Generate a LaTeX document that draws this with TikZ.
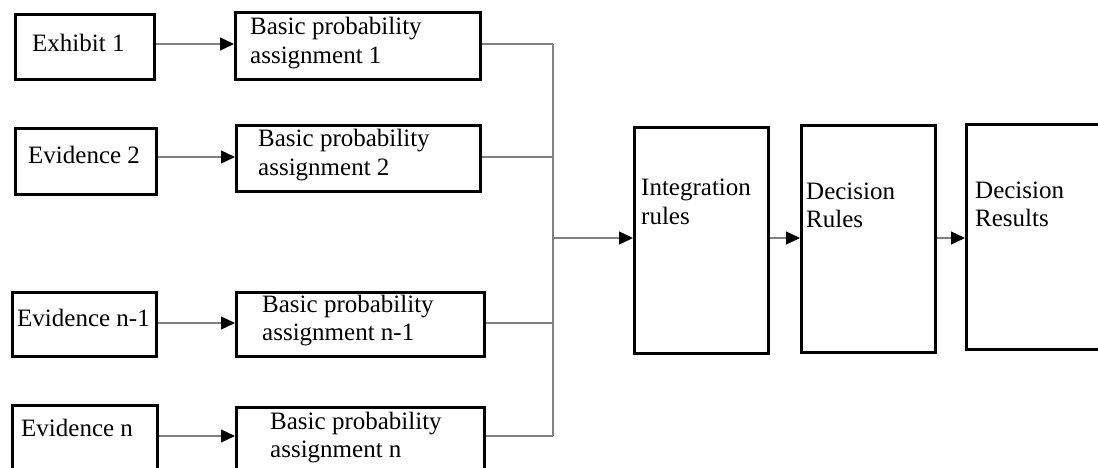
\documentclass[tikz,border=0pt]{standalone}
\usepackage{fontspec}
\setmainfont{Liberation Serif}
\usetikzlibrary{arrows.meta}
\definecolor{connc}{RGB}{128,128,128}
\begin{document}
\begin{tikzpicture}[x=1pt,y=-1pt,
  box/.style={draw=black,line width=3pt,inner sep=0pt,anchor=north west},
  lbl/.style={anchor=base west,inner sep=0pt,font=\fontsize{25}{28.5}\selectfont},
  conn/.style={draw=connc,line width=1.3pt},
  arr/.style={conn,-{Triangle[length=14pt,width=13pt,color=black]}}]
\useasboundingbox (0,0) rectangle (1098,468);
% boxes
\node[box,minimum width=139pt,minimum height=65pt] (e1) at (14,13) {};
\node[box,minimum width=245pt,minimum height=67pt] (b1) at (234,11) {};
\node[box,minimum width=141pt,minimum height=66pt] (e2) at (14,127) {};
\node[box,minimum width=244pt,minimum height=66pt] (b2) at (235,124) {};
\node[box,minimum width=144pt,minimum height=64pt] (e3) at (11,291) {};
\node[box,minimum width=248pt,minimum height=64pt] (b3) at (235,291) {};
\node[box,minimum width=145pt,minimum height=75pt] (e4) at (11,404) {};
\node[box,minimum width=248pt,minimum height=72pt] (b4) at (235,406) {};
\node[box,minimum width=134pt,minimum height=226pt] (ir) at (633,126) {};
\node[box,minimum width=134pt,minimum height=227pt] (dr) at (800,124) {};
\node[box,minimum width=145pt,minimum height=225pt] (dres) at (965,123) {};
% texts
\node[lbl] (te1) at (32,52) {Exhibit 1};
\node[lbl] (tb1) at (250,35) {\begin{tabular}[t]{@{}l@{}}Basic probability\\assignment 1\end{tabular}};
\node[lbl] (te2) at (28,164) {Evidence 2};
\node[lbl] (tb2) at (258,147) {\begin{tabular}[t]{@{}l@{}}Basic probability\\assignment 2\end{tabular}};
\node[lbl] (te3) at (17,326) {Evidence n-1};
\node[lbl] (tb3) at (262,312) {\begin{tabular}[t]{@{}l@{}}Basic probability\\assignment n-1\end{tabular}};
\node[lbl] (te4) at (21,436) {Evidence n};
\node[lbl] (tb4) at (270,429) {\begin{tabular}[t]{@{}l@{}}Basic probability\\assignment n\end{tabular}};
\node[lbl] (tir) at (641,196) {\begin{tabular}[t]{@{}l@{}}Integration\\rules\end{tabular}};
\node[lbl] (tdr) at (806,199) {\begin{tabular}[t]{@{}l@{}}Decision\\Rules\end{tabular}};
\node[lbl] (tdres) at (975,198) {\begin{tabular}[t]{@{}l@{}}Decision\\Results\end{tabular}};
% connector rows
\coordinate (r1) at (0,44);
\coordinate (r2) at (0,157);
\coordinate (r3) at (0,323);
\coordinate (r4) at (0,436);
\coordinate (rm) at (0,238);
\coordinate (bus1) at (553,44);
\coordinate (bus2) at (553,157);
\coordinate (bus3) at (553,323);
\coordinate (bus4) at (553,436);
\coordinate (busm) at (553,238);
\draw[arr] (e1.east |- r1) -- (b1.west |- r1);
\draw[arr] (e2.east |- r2) -- (b2.west |- r2);
\draw[arr] (e3.east |- r3) -- (b3.west |- r3);
\draw[arr] (e4.east |- r4) -- (b4.west |- r4);
\draw[conn] (b1.east |- r1) -- (bus1);
\draw[conn] (b2.east |- r2) -- (bus2);
\draw[conn] (b3.east |- r3) -- (bus3);
\draw[conn] (b4.east |- r4) -- (bus4);
\draw[conn] (bus1) -- (bus4);
\draw[arr] (busm) -- (ir.west |- rm);
\draw[arr] (ir.east |- rm) -- (dr.west |- rm);
\draw[arr] (dr.east |- rm) -- (dres.west |- rm);
\end{tikzpicture}
\end{document}
